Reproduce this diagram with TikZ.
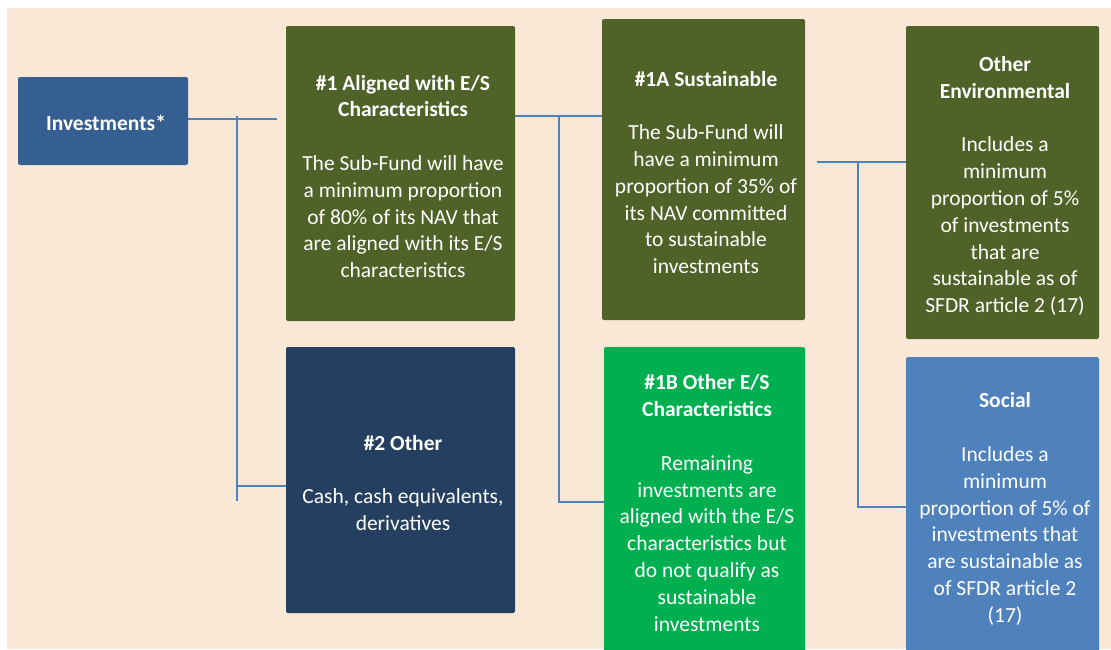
\documentclass[tikz,border=0pt]{standalone}
\usepackage{fontspec}
\setmainfont{Carlito}
\definecolor{bgpeach}{HTML}{FAE8D7}
\definecolor{invblue}{HTML}{365F91}
\definecolor{olive}{HTML}{4F6228}
\definecolor{navy}{HTML}{243F60}
\definecolor{brightgreen}{HTML}{00B050}
\definecolor{midblue}{HTML}{4F81BD}
\tikzset{
  box/.style={draw=none, rounded corners=2pt, inner sep=0pt},
  txt/.style={inner sep=0pt, align=center, text=white,
    font=\fontsize{21.5}{26.8}\selectfont},
  conn/.style={draw=midblue, line width=1.8pt},
}
\begin{document}
\begin{tikzpicture}[x=1pt, y=-1pt]
\useasboundingbox (0,0) rectangle (1111,649);
\fill[bgpeach] (7,8) rectangle (1111,649);
% boxes
\node[box, fill=invblue, minimum width=170pt, minimum height=88pt] (inv) at (103,121) {};
\node[txt] (invt) at ([shift={(3,2)}]inv.center) {\bfseries Investments*};
\node[box, fill=olive, minimum width=229pt, minimum height=295pt] (aligned) at (400.5,173.5) {};
\node[txt] (alignedt) at ([shift={(2.5,3)}]aligned.center)
  {\bfseries \#1 Aligned with E/S\\\bfseries Characteristics\\[26.8pt]
   The Sub-Fund will have\\a minimum proportion\\of 80\% of its NAV that\\are aligned with its E/S\\characteristics};
\node[box, fill=navy, minimum width=229pt, minimum height=266pt] (other) at (400.5,480) {};
\node[txt] (othert) at ([shift={(2.5,3)}]other.center)
  {\bfseries \#2 Other\\[26.8pt]Cash, cash equivalents,\\derivatives};
\node[box, fill=olive, minimum width=203pt, minimum height=301pt] (sust) at (703.5,169.5) {};
\node[txt] (sustt) at ([shift={(2.5,3)}]sust.center)
  {\bfseries \#1A Sustainable\\[26.8pt]
   The Sub-Fund will\\have a minimum\\proportion of 35\% of\\its NAV committed\\to sustainable\\investments};
\node[box, fill=brightgreen, minimum width=201pt, minimum height=306pt] (otheres) at (704.5,500) {};
\node[txt] (otherest) at ([shift={(2.5,3)}]otheres.center)
  {\bfseries \#1B Other E/S\\\bfseries Characteristics\\[26.8pt]
   Remaining\\investments are\\aligned with the E/S\\characteristics but\\do not qualify as\\sustainable\\investments};
\node[box, fill=olive, minimum width=193pt, minimum height=313pt] (env) at (1002.5,182.5) {};
\node[txt] (envt) at ([shift={(2.5,3.5)}]env.center)
  {\bfseries Other\\\bfseries Environmental\\[26.8pt]
   Includes a\\minimum\\proportion of 5\%\\of investments\\that are\\sustainable as of\\SFDR article 2 (17)};
\node[box, fill=midblue, minimum width=193pt, minimum height=298pt] (social) at (1002.5,506) {};
\node[txt] (socialt) at ([shift={(2.5,3)}]social.center)
  {\bfseries Social\\[26.8pt]
   Includes a\\minimum\\proportion of 5\% of\\investments that\\are sustainable as\\of SFDR article 2\\(17)};
% connectors
\coordinate (j1) at (237,116);
\coordinate (j1e) at (237,501);
\draw[conn] (inv.east |- 0,119) -- ([xshift=-9pt]aligned.west |- 0,119);
\draw[conn] (j1) -- (j1e);
\draw[conn] (j1 |- 0,486) -- (other.west |- 0,486);
\coordinate (j2) at (559,116);
\draw[conn] (aligned.east |- 0,116) -- (sust.west |- 0,116);
\draw[conn] (j2) |- (otheres.west |- 0,502);
\coordinate (j3) at (858,162);
\draw[conn] ([xshift=12pt]sust.east |- 0,162) -- (env.west |- 0,162);
\draw[conn] (j3) |- (social.west |- 0,507);
\end{tikzpicture}
\end{document}
